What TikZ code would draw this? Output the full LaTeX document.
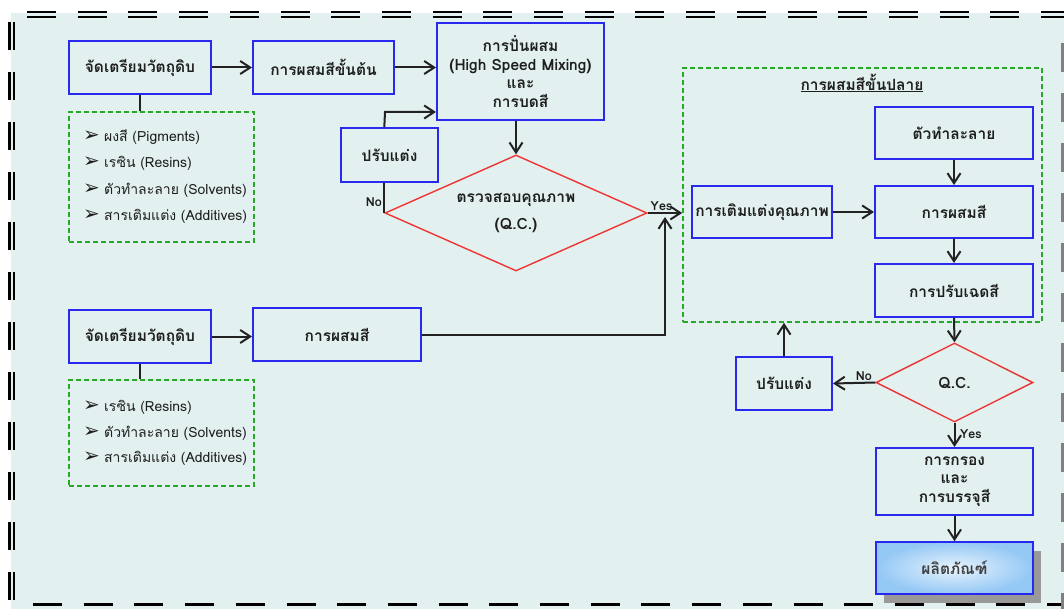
\documentclass[tikz,border=0pt]{standalone}
\usepackage{fontspec}
\setmainfont[Script=Thai]{Loma}
\newfontfamily\djv{DejaVu Sans}
\usetikzlibrary{arrows.meta,shapes.geometric,calc,shadows}
\definecolor{bgc}{RGB}{227,240,240}
\definecolor{boxblue}{RGB}{40,40,238}
\definecolor{qcred}{RGB}{240,52,52}
\definecolor{grn}{RGB}{40,170,40}
\definecolor{ln}{RGB}{34,34,34}
\definecolor{txt}{RGB}{30,30,30}
\definecolor{prodin}{RGB}{232,243,252}
\definecolor{prodout}{RGB}{148,200,245}
\tikzset{
  pbox/.style={draw=boxblue, line width=2pt, align=center, text=txt, inner sep=2pt,
    font=\fontsize{15.5pt}{18.5pt}\selectfont\bfseries},
  dgn/.style={diamond, draw=qcred, line width=1.4pt, inner sep=0pt, align=center, text=txt,
    font=\fontsize{15.5pt}{18.5pt}\selectfont\bfseries},
  grp/.style={draw=grn, line width=1.6pt, dash pattern=on 5pt off 3pt},
  conn/.style={draw=ln, line width=2pt},
  arr/.style={conn, -{Straight Barb[length=10pt,width=13pt]}},
  item/.style={anchor=west, inner sep=0pt, text=txt, font=\fontsize{14pt}{16pt}\selectfont},
  lbl/.style={text=txt, inner sep=1.5pt, font=\fontsize{12.5pt}{14pt}\selectfont\bfseries},
  frameline/.style={draw=black, line width=2.3pt}
}
\newcommand{\bul}{\makebox[21pt][l]{\raisebox{-0.5pt}{\djv\fontsize{20pt}{20pt}\selectfont\char"27A2}}}
\begin{document}
\begin{tikzpicture}[x=1pt,y=-1pt]
\useasboundingbox (0,0) rectangle (1064,609);
% background and frame
\fill[bgc] (11,13) rectangle (1064,609);
\draw[frameline, dash pattern=on 29pt off 21.7pt] (27,12) -- (1064,12);
\draw[frameline, dash pattern=on 29pt off 21.7pt] (27,16.8) -- (1064,16.8);
\draw[frameline, dash pattern=on 28pt off 22pt] (9.4,22) -- (9.4,609);
\draw[frameline, dash pattern=on 28pt off 22pt] (13.9,22) -- (13.9,609);
\draw[frameline, line width=2.6pt, dash pattern=on 29pt off 21.7pt] (33,604.5) -- (1064,604.5);
\draw[draw=black!50, line width=3pt, dash pattern=on 29pt off 21pt] (1062.5,43) -- (1062.5,609);

% left upper section
\node[pbox, minimum width=142pt, minimum height=53pt] (b1) at (140,67.5) {จัดเตรียมวัตถุดิบ};
\node[pbox, minimum width=141pt, minimum height=53pt] (b2) at (323.5,67.5) {การผสมสีขั้นต้น};
\node[pbox, minimum width=167pt, minimum height=97pt] (mix) at (520.5,71.5) {การปั่นผสม\\(High Speed Mixing)\\และ\\การบดสี};
\node[pbox, minimum width=97pt, minimum height=54pt] (adj1) at (389.5,155) {ปรับแต่ง};
\node[dgn, aspect=2.26, minimum width=262pt, minimum height=116pt] (qc1) at (516,213) {ตรวจสอบคุณภาพ\\[9pt](Q.C.)};
\node[grp, minimum width=185pt, minimum height=130pt] (list1) at (161.5,177) {};
\node[item] (l1a) at (83,137) {\bul ผงสี (Pigments)};
\node[item] (l1b) at (83,163) {\bul เรซิน (Resins)};
\node[item] (l1c) at (83,190) {\bul ตัวทำละลาย (Solvents)};
\node[item] (l1d) at (83,216) {\bul สารเติมแต่ง (Additives)};

% left lower section
\node[pbox, minimum width=142pt, minimum height=53pt] (b3) at (140,336.5) {จัดเตรียมวัตถุดิบ};
\node[pbox, minimum width=168pt, minimum height=53pt] (mix2) at (337,334.5) {การผสมสี};
\node[grp, minimum width=185pt, minimum height=106pt] (list2) at (161.5,433) {};
\node[item] (l2a) at (83,407) {\bul เรซิน (Resins)};
\node[item] (l2b) at (83,433) {\bul ตัวทำละลาย (Solvents)};
\node[item] (l2c) at (83,458) {\bul สารเติมแต่ง (Additives)};

% right section
\node[grp, minimum width=359pt, minimum height=254pt] (late) at (862.5,195) {};
\node[text=txt, font=\fontsize{15.5pt}{18pt}\selectfont\bfseries] (title) at (862,83) {\underline{การผสมสีขั้นปลาย}};
\node[pbox, minimum width=158pt, minimum height=52pt] (solv) at (954,133) {ตัวทำละลาย};
\node[pbox, minimum width=158pt, minimum height=52pt] (mix3) at (954,212) {การผสมสี};
\node[pbox, minimum width=158pt, minimum height=53pt] (shade) at (954,290.5) {การปรับเฉดสี};
\node[pbox, minimum width=140pt, minimum height=52pt] (enh) at (762,212) {การเติมแต่งคุณภาพ};
\node[dgn, aspect=2, minimum width=157pt, minimum height=79pt] (qc2) at (954.5,382.5) {Q.C.};
\node[pbox, minimum width=96pt, minimum height=53pt] (adj2) at (784,383.5) {ปรับแต่ง};
\node[pbox, minimum width=157pt, minimum height=67pt] (filt) at (954.5,481.5) {การกรอง\\และ\\การบรรจุสี};
\node[pbox, line width=1.6pt, minimum width=157pt, minimum height=52pt, inner color=prodin, outer color=prodout,
  text=black!75, drop shadow={shadow xshift=8pt, shadow yshift=-9pt, fill=black!40, opacity=1}] (prod) at (954.5,568) {ผลิตภัณฑ์};

% connectors upper left
\draw[arr] (b1.east) -- (b2.west);
\draw[arr] (b2.east) -- (b2.east -| mix.west);
\draw[conn] (b1.south) -- (b1.south |- list1.north);
\coordinate (j1) at (385,112);
\draw[arr] (qc1.west |- adj1.north) -- (j1) -- (j1 -| mix.west);
\draw[conn] (qc1.west) -- (qc1.west |- adj1.south) node[lbl, pos=0.35, left] {No};
\draw[arr] (qc1.north |- mix.south) -- (qc1.north);
\draw[arr] (qc1.east) -- (qc1.east -| late.west) node[lbl, pos=0.4, above] {Yes};
% lower left
\draw[arr] (b3.east) -- (b3.east -| mix2.west);
\draw[conn] (b3.south) -- (b3.south |- list2.north);
\coordinate (j2) at (665,217);
\draw[arr] (mix2.east) -| (j2);
% right
\draw[arr] (solv.south) -- (mix3.north);
\draw[arr] (enh.east) -- (mix3.west);
\draw[arr] (mix3.south) -- (shade.north);
\draw[arr] (shade.south) -- (qc2.north);
\draw[arr] (qc2.west) -- (adj2.east) node[lbl, pos=0.27, above] {No};
\draw[arr] (adj2.north) -- (adj2.north |- late.south);
\draw[arr] (qc2.south) -- (filt.north) node[lbl, pos=0.45, right=3pt] {Yes};
\draw[arr] (filt.south) -- (prod.north);
\end{tikzpicture}
\end{document}
